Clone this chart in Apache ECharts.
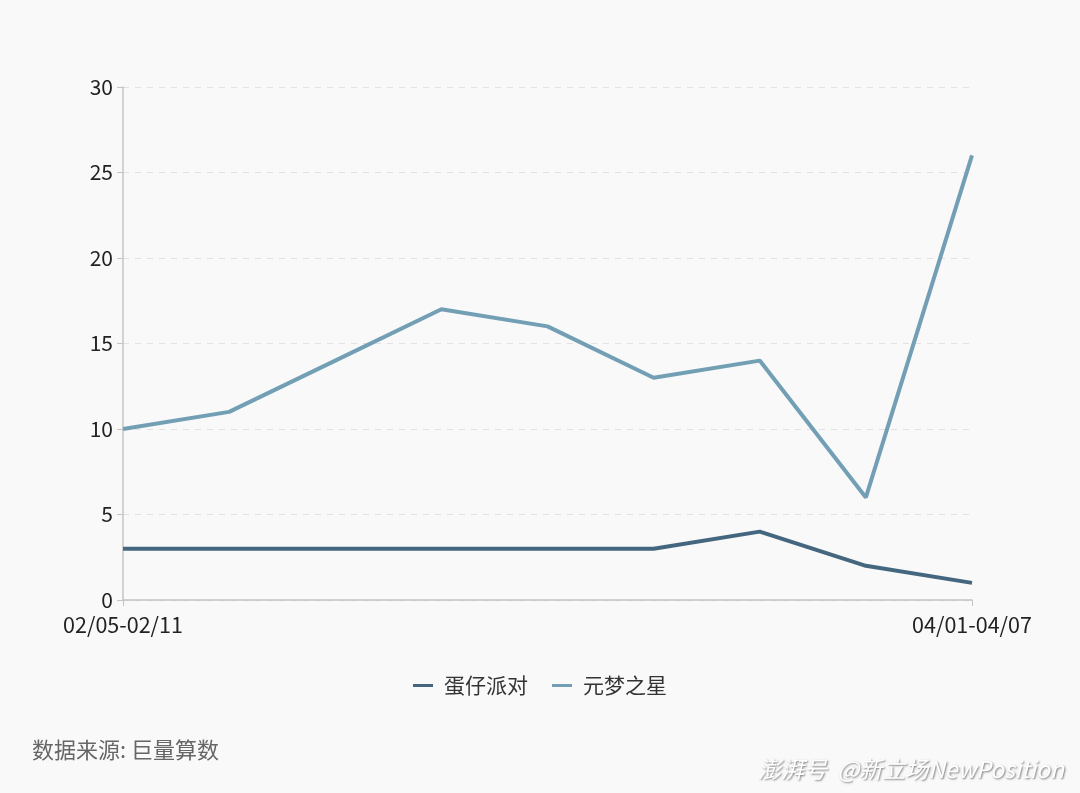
<!DOCTYPE html>
<html>
<head>
<meta charset="utf-8">
<script src="https://cdn.jsdelivr.net/npm/echarts@6/dist/echarts.min.js"></script>
<style>
  html, body { margin: 0; padding: 0; background: #f9f9f9; }
  #main { width: 1080px; height: 793px; }
</style>
</head>
<body>
<div id="main"></div>
<script>
var weeks = ['02/05-02/11', '02/12-02/18', '02/19-02/25', '02/26-03/03', '03/04-03/10',
    '03/11-03/17', '03/18-03/24', '03/25-03/31', '04/01-04/07'];
var danzai = [3, 3, 3, 3, 3, 3, 4, 2, 1];
var yuanmeng = [10, 11, 14, 17, 16, 13, 14, 6, 26];
var yTicks = [0, 5, 10, 15, 20, 25, 30];

var font = '"Noto Sans CJK SC", "Noto Sans", sans-serif';
var myChart = echarts.init(document.getElementById('main'));

function endsOnly(i) {
    return i === 0 || i === weeks.length - 1;
}

var option = {
    backgroundColor: '#f9f9f9',
    textStyle: { fontFamily: font },
    grid: { left: 123, right: 108, top: 87, bottom: 193 },
    xAxis: {
        type: 'category',
        data: weeks,
        boundaryGap: false,
        axisLine: { lineStyle: { color: '#c4c4c4', width: 1.5 } },
        axisTick: { interval: endsOnly, length: 6, lineStyle: { color: '#c4c4c4' } },
        axisLabel: {
            interval: endsOnly,
            color: '#222',
            fontSize: 21.5,
            margin: 14
        }
    },
    yAxis: {
        type: 'value',
        min: yTicks[0],
        max: yTicks[yTicks.length - 1],
        interval: 5,
        axisLine: { show: true, lineStyle: { color: '#c4c4c4', width: 1.5 } },
        axisTick: { show: true, length: 6, lineStyle: { color: '#c4c4c4' } },
        axisLabel: { color: '#222', fontSize: 21, margin: 10 },
        splitLine: { lineStyle: { color: '#e2e2e2', type: [6, 6] } }
    },
    legend: {
        bottom: 92,
        left: 'center',
        itemWidth: 20,
        itemHeight: 3,
        itemGap: 24,
        icon: 'rect',
        textStyle: { fontSize: 21, color: '#333', fontFamily: font, padding: [0, 0, 0, 6] },
        data: ['蛋仔派对', '元梦之星']
    },
    graphic: [{
        type: 'text',
        left: 32,
        top: 739,
        style: { text: '数据来源: 巨量算数', fill: '#666', font: '22px ' + font }
    }, {
        type: 'text',
        right: 16,
        top: 758,
        style: {
            text: '澎湃号  @新立场NewPosition',
            font: 'italic 23px ' + font,
            fill: '#ffffff',
            textShadowColor: 'rgba(0,0,0,0.5)',
            textShadowBlur: 2,
            textShadowOffsetX: 1,
            textShadowOffsetY: 1
        }
    }],
    series: [{
        name: '蛋仔派对',
        type: 'line',
        data: danzai,
        symbol: 'none',
        color: '#44677f',
        lineStyle: { width: 4 }
    }, {
        name: '元梦之星',
        type: 'line',
        data: yuanmeng,
        symbol: 'none',
        color: '#739fb5',
        lineStyle: { width: 4 }
    }]
};
myChart.setOption(option);
</script>
</body>
</html>
